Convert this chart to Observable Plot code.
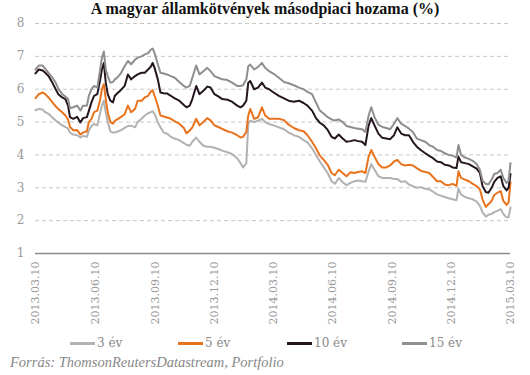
<!DOCTYPE html>
<html><head><meta charset="utf-8">
<script src="https://cdn.jsdelivr.net/npm/d3@7"></script>
<script src="https://cdn.jsdelivr.net/npm/@observablehq/plot@0.6"></script>
<style>
body{margin:0;background:#fff;width:530px;height:375px;overflow:hidden;position:relative}
#title{position:absolute;left:0;top:0;width:530px;text-align:center;font-family:"Liberation Serif",serif;font-weight:bold;font-size:16px;line-height:18px;color:#111;z-index:2}
#chart{position:absolute;left:0;top:8px;z-index:1}
.leg{position:absolute;top:335px;font-family:"DejaVu Serif",serif;font-size:12px;color:#888;white-space:nowrap;line-height:16px}
.sw{display:inline-block;width:25px;height:3px;vertical-align:middle;margin-right:2px;position:relative;top:0px}
#source{position:absolute;left:10px;top:354px;font-family:"Liberation Serif",serif;font-style:italic;font-size:14.5px;color:#888;white-space:nowrap}
</style></head>
<body>
<div id="title">A magyar államkötvények másodpiaci hozama (%)</div>
<div id="chart"></div>
<div id="legend"></div>
<div id="source">Forrás: ThomsonReutersDatastream, Portfolio</div>
<script>
// day offsets from 2013-03-10
const days = [0,5,11,15,20,26,31,35,41,46,50,53,58,64,69,73,79,82,86,90,95,99,102,105,108,111,115,119,122,127,131,137,142,147,153,157,163,168,173,177,180,183,188,192,197,202,208,214,221,228,232,237,241,247,252,258,264,269,275,281,287,295,302,310,315,319,324,327,330,336,342,348,353,359,366,374,382,389,397,405,412,418,425,431,437,443,449,455,460,466,472,478,484,490,496,502,507,512,516,521,527,533,539,545,551,556,562,568,574,580,586,592,599,605,611,617,623,629,635,641,647,650,654,660,666,672,678,683,687,692,696,701,705,710,715,719,724,727,730];
const y3 = [5.36,5.4,5.38,5.3,5.25,5.14,5.05,4.99,4.9,4.85,4.8,4.68,4.62,4.6,4.53,4.58,4.55,4.74,4.88,4.94,4.9,5.25,5.5,5.65,5.3,5.0,4.72,4.68,4.68,4.72,4.75,4.82,4.88,4.89,4.84,5.0,5.1,5.2,5.27,5.3,5.33,5.25,5.0,4.84,4.68,4.65,4.55,4.5,4.45,4.36,4.31,4.28,4.4,4.53,4.4,4.28,4.25,4.25,4.22,4.18,4.13,4.08,4.03,3.9,3.75,3.62,3.75,4.94,5.04,5.0,5.04,5.1,5.0,4.94,4.9,4.84,4.78,4.68,4.6,4.55,4.45,4.38,4.2,4.0,3.8,3.62,3.45,3.2,3.12,3.3,3.17,3.08,3.15,3.2,3.22,3.2,3.18,3.5,3.72,3.55,3.35,3.3,3.3,3.3,3.27,3.27,3.18,3.2,3.1,3.05,3.0,3.02,2.97,2.95,2.88,2.8,2.76,2.72,2.68,2.65,2.62,2.97,2.8,2.72,2.68,2.65,2.58,2.45,2.25,2.12,2.18,2.2,2.26,2.3,2.35,2.2,2.1,2.1,2.4];
const y5 = [5.73,5.85,5.9,5.85,5.75,5.6,5.48,5.4,5.3,5.2,5.08,4.85,4.75,4.76,4.62,4.68,4.72,5.0,5.1,5.3,5.35,5.65,6.0,6.15,5.7,5.3,5.0,4.95,5.04,5.1,5.15,5.24,5.5,5.3,5.4,5.65,5.65,5.75,5.8,5.92,5.97,5.8,5.5,5.2,5.17,5.14,5.1,5.02,4.95,4.82,4.66,4.74,4.84,5.1,4.9,5.0,5.12,5.05,4.9,4.85,4.79,4.72,4.68,4.6,4.53,4.55,4.7,5.2,5.4,5.1,5.14,5.45,5.2,5.1,5.1,5.1,5.06,4.92,4.82,4.75,4.72,4.6,4.4,4.2,3.98,3.85,3.7,3.45,3.38,3.55,3.45,3.35,3.47,3.45,3.48,3.5,3.45,3.95,4.15,3.95,3.72,3.62,3.62,3.68,3.8,3.85,3.72,3.68,3.7,3.68,3.6,3.52,3.48,3.45,3.33,3.2,3.2,3.1,3.08,3.12,3.06,3.5,3.3,3.25,3.2,3.12,3.05,2.95,2.65,2.42,2.5,2.6,2.78,2.85,2.9,2.6,2.48,2.55,3.17];
const y10 = [6.48,6.6,6.57,6.5,6.4,6.2,6.0,5.85,5.75,5.7,5.5,5.15,5.1,5.16,4.99,5.12,5.15,5.34,5.6,5.8,5.85,6.25,6.6,6.8,6.2,5.85,5.65,5.6,5.8,5.9,5.97,6.1,6.45,6.3,6.4,6.45,6.5,6.5,6.6,6.68,6.8,6.65,6.3,5.9,5.88,5.87,5.8,5.72,5.65,5.52,5.45,5.5,5.7,6.1,5.85,5.95,6.08,6.05,5.85,5.78,5.7,5.68,5.62,5.5,5.45,5.5,5.65,6.2,6.25,6.0,6.05,6.2,6.05,6.0,5.9,5.8,5.72,5.65,5.62,5.65,5.58,5.5,5.35,5.12,4.98,4.9,4.76,4.55,4.5,4.62,4.5,4.4,4.42,4.45,4.42,4.4,4.3,4.9,5.12,4.9,4.65,4.52,4.5,4.48,4.6,4.84,4.65,4.6,4.6,4.4,4.25,4.15,4.05,3.97,3.9,3.8,3.78,3.7,3.68,3.62,3.6,3.95,3.78,3.75,3.72,3.65,3.58,3.45,3.05,2.87,2.85,3.0,3.18,3.3,3.35,3.05,2.92,3.0,3.42];
const y15 = [6.6,6.72,6.72,6.62,6.5,6.35,6.2,6.02,5.85,5.78,5.7,5.42,5.45,5.5,5.35,5.5,5.5,5.8,6.0,6.1,6.05,6.55,6.95,7.15,6.6,6.4,6.2,6.22,6.3,6.38,6.48,6.7,6.86,6.76,6.9,6.96,7.0,7.06,7.1,7.2,7.24,7.1,6.76,6.5,6.48,6.45,6.4,6.35,6.22,6.1,6.05,6.1,6.35,6.72,6.45,6.55,6.65,6.55,6.4,6.35,6.3,6.28,6.2,6.1,6.1,6.12,6.3,6.7,6.75,6.6,6.68,6.8,6.65,6.55,6.47,6.35,6.22,6.18,6.12,6.05,6.0,5.92,5.85,5.6,5.35,5.25,5.15,5.08,5.05,5.08,5.0,4.88,4.85,4.82,4.8,4.78,4.7,5.2,5.45,5.15,4.92,4.85,4.82,4.78,4.95,5.12,4.95,4.88,4.8,4.7,4.5,4.45,4.4,4.3,4.25,4.15,4.12,4.05,4.0,3.98,3.92,4.3,4.0,3.92,3.88,3.82,3.72,3.55,3.22,3.12,3.1,3.25,3.42,3.45,3.55,3.3,3.15,3.2,3.75];
const seriesNames = ["3 év","5 év","10 év","15 év"];
const seriesColors = ["#b2b2b2","#e8731c","#24151f","#8e8e8e"];
const yTicks = [1,2,3,4,5,6,7,8];
const xTickDates = ["2013-03-10","2013-06-10","2013-09-10","2013-12-10","2014-03-10","2014-06-10","2014-09-10","2014-12-10","2015-03-10"];

const start = new Date(Date.UTC(2013,2,10));
const seriesValues = [y3,y5,y10,y15];
const data = [];
seriesValues.forEach((vals,s)=>{
  vals.forEach((v,i)=>data.push({series: seriesNames[s], date: d3.utcDay.offset(start, days[i]), value: v}));
});
const ticks = xTickDates.map(d=>new Date(d+"T00:00:00Z"));

const chart = Plot.plot({
  width: 530, height: 320,
  marginLeft: 35, marginRight: 20, marginTop: 15, marginBottom: 75,
  style: {fontFamily: "DejaVu Serif", fontSize: "11px", color: "#999", background: "transparent", overflow: "visible"},
  x: {type: "utc", domain: [ticks[0], ticks[ticks.length-1]]},
  y: {domain: [1,8]},
  color: {domain: seriesNames, range: seriesColors},
  marks: [
    Plot.ruleY(yTicks.filter(d=>d>1), {stroke: "#c8c8c8", strokeDasharray: "4,3", strokeWidth: 1}),
    Plot.ruleY([1], {stroke: "#8a8a8a", strokeWidth: 1.5}),
    Plot.axisX({ticks: ticks, tickFormat: d3.utcFormat("%Y.%m.%d"), tickRotate: -90, tickSize: 0, tickPadding: 8, label: null, fontSize: 11, fill: "#999"}),
    Plot.axisY({ticks: yTicks, tickFormat: d => String(d), tickSize: 0, tickPadding: 11, label: null, fontSize: 12, fill: "#999"}),
    Plot.line(data, {x: "date", y: "value", z: "series", stroke: "series", strokeWidth: 2, strokeLinejoin: "round"})
  ]
});
document.getElementById("chart").appendChild(chart);

const legendX = [70, 178, 287, 402];
const leg = document.getElementById("legend");
seriesNames.forEach((n,i)=>{
  const d = document.createElement("div");
  d.className = "leg";
  d.style.left = legendX[i] + "px";
  d.innerHTML = `<span class="sw" style="background:${seriesColors[i]}"></span>${n}`;
  leg.appendChild(d);
});
</script>
</body></html>
